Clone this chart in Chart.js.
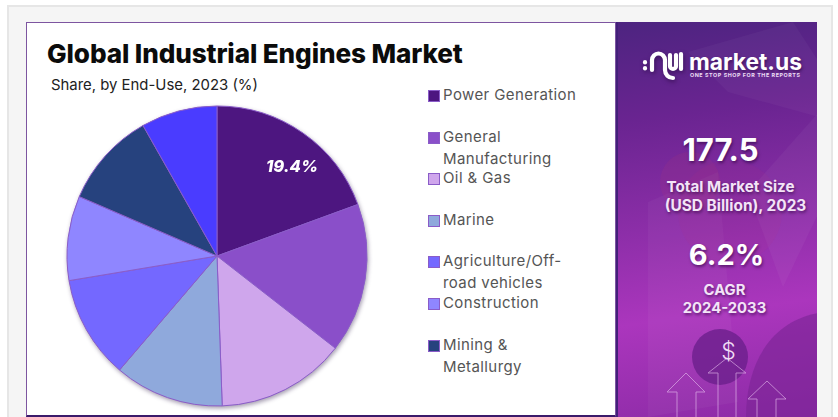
<!DOCTYPE html>
<html>
<head>
<meta charset="utf-8">
<script src="https://cdn.jsdelivr.net/npm/chart.js@4"></script>
<style>
    html, body { margin: 0; padding: 0; background: #fff; }
    body { width: 838px; height: 417px; position: relative; overflow: hidden; font-family: "Inter", sans-serif; }
    .frame { position: absolute; left: 7px; top: 5px; width: 826px; height: 420px; background: #f5f5f5; border: 2px solid #e6e6e6; border-bottom: 0; box-sizing: border-box; }
    .card { position: absolute; left: 26px; top: 22px; width: 590px; height: 395px; background: #fff; border: 1px solid #7d55a0; border-bottom: 2px solid #3b1a6b; box-sizing: border-box; }
    .title { position: absolute; left: 47px; top: 38px; font-size: 26.1px; line-height: 32px; font-weight: 800; color: #0b0b0b; letter-spacing: -0.1px; white-space: nowrap; }
    .subtitle { position: absolute; left: 51px; top: 75px; font-size: 14.9px; line-height: 20px; color: #222; white-space: nowrap; }
    #chartWrap { position: absolute; left: 57px; top: 96px; width: 320px; height: 320px; filter: drop-shadow(1px 2px 2px rgba(30, 10, 60, .4)); }
    #legend { position: absolute; left: 428px; top: 84px; width: 180px; }
    .row { position: relative; height: 41.6px; font-size: 15px; line-height: 22px; color: #555; letter-spacing: .4px; padding-left: 15px; box-sizing: border-box; white-space: nowrap; }
    .row i { position: absolute; left: 0; top: 6px; width: 10px; height: 10px; border: 1px solid #8a5cc8; }
    .side { position: absolute; left: 616px; top: 22px; width: 201px; height: 395px; overflow: hidden; background: linear-gradient(172deg, #4d2480 0%, #6a2491 24%, #8c2ea8 50%, #ab36bd 72%, #8c2ba6 100%); border-left: 2px solid #43207a; box-sizing: border-box; color: #fff; text-align: center; }
    .side svg { position: absolute; left: 0; top: 0; }
    .side div { position: absolute; left: 0; width: 199px; text-shadow: 1px 2px 3px rgba(40, 0, 60, .55); white-space: nowrap; }
    .big { font-size: 31px; line-height: 36px; font-weight: 700; }
    .cap { font-size: 15.2px; line-height: 19px; font-weight: 700; color: #f3e4f7; }
    .side .brand { left: 71px; width: auto; top: 26px; font-size: 22.8px; line-height: 28px; font-weight: 700; }
    .side .tag { left: 72px; width: auto; top: 49px; font-size: 5.4px; line-height: 8px; font-weight: 700; letter-spacing: .55px; color: #eadcf2; text-shadow: none; }
</style>
</head>
<body>
<div class="frame"></div>
<div class="card"></div>
<div class="title">Global Industrial Engines Market</div>
<div class="subtitle">Share, by End-Use, 2023 (%)</div>
<div id="chartWrap"><canvas id="shareChart" width="320" height="320"></canvas></div>
<div id="legend"></div>

<div class="side">
    <svg width="201" height="395" fill="none">
        <!-- background shapes -->
        <polygon points="70,30 175,0 201,40 201,95 110,70" fill="#fff" opacity=".035"/>
        <polygon points="130,170 201,90 201,190 165,265" fill="#fff" opacity=".04"/>
        <polygon points="30,180 100,150 120,380 30,395" fill="#fff" opacity=".035"/>
        <circle cx="112" cy="190" r="52" fill="#c0396f" opacity=".08"/>
        <circle cx="72" cy="160" r="30" fill="#c0396f" opacity=".12"/>
        <circle cx="102" cy="335" r="28" fill="#6b1f8c" opacity=".8"/>
        <path d="M128 395 C128 345 150 300 201 291 V395 Z" fill="#7d2596" opacity=".65"/>
        <!-- logo mark -->
        <g stroke="#fff" stroke-width="4.2" stroke-linecap="round" filter="drop-shadow(1px 2px 2px rgba(30,0,50,.5))">
            <path d="M34 48 V38 A6.5 6.5 0 0 1 47 38 V48 A8 8 0 0 0 55 56"/>
            <path d="M52 33 V44 A3 3 0 0 0 58 44 V33"/>
            <path d="M63 32 V47"/>
            <path d="M27 40 V40.5"/>
            <path d="M27 46 V46.5"/>
        </g>
        <!-- rising arrows -->
        <g stroke="#e7bfef" stroke-width="1" opacity=".6">
            <path d="M59 395 V370 H49 L68 351 L87 370 H78 V395"/>
            <path d="M100 395 V351 H90 L109 336 L128 351 H118 V395"/>
            <path d="M139 395 V377 H130 L149 359 L168 377 H158 V395"/>
        </g>
    </svg>
    <div class="brand">market.us</div>
    <div class="tag">ONE STOP SHOP FOR THE REPORTS</div>
    <div class="big" style="top:110px; left:3px;">177.5</div>
    <div class="cap" style="top:155px; left:13px;">Total Market Size</div>
    <div class="cap" style="top:174px; left:18px; font-size:15.4px;">(USD Billion), 2023</div>
    <div class="big" style="top:215px; left:9px; font-size:29px;">6.2%</div>
    <div class="cap" style="top:259px; left:7px; font-size:14.8px;">CAGR</div>
    <div class="cap" style="top:277px; left:7px; font-size:14.8px;">2024-2033</div>
    <div style="top:315px; left:11px; font-size:23px; line-height:28px; color:#f0dcf5; text-shadow:none; font-weight:300;">$</div>
</div>

<script>
// End-use shares, clockwise from the top
const categories = ['Power Generation', 'General Manufacturing', 'Oil & Gas', 'Marine',
    'Agriculture/Off-road vehicles', 'Construction', 'Mining & Metallurgy', 'Others'];
const shares = [19.4, 16.1, 13.9, 11.8, 11.1, 9.1, 10.3, 8.2];
const sliceColors = ['#4d1680', '#8a4fc9', '#cfa6ec', '#8fa9dc', '#7468ff', '#8f86ff', '#26427e', '#4a3cff'];

// Legend lines, the last slice has no legend entry
const legendLines = [
    ['Power Generation'],
    ['General', 'Manufacturing'],
    ['Oil & Gas'],
    ['Marine'],
    ['Agriculture/Off-', 'road vehicles'],
    ['Construction'],
    ['Mining &', 'Metallurgy']
];

// Value label on the largest slice only
const sliceLabel = {
    id: 'sliceLabel',
    afterDatasetsDraw(chart) {
        const arc = chart.getDatasetMeta(0).data[0];
        const { ctx } = chart;
        ctx.save();
        ctx.font = 'italic 800 16.5px Inter, sans-serif';
        ctx.fillStyle = '#fff';
        ctx.textAlign = 'center';
        ctx.textBaseline = 'middle';
        ctx.fillText(shares[0] + '%', arc.x + 0.5 * arc.outerRadius, arc.y - 0.595 * arc.outerRadius);
        ctx.restore();
    }
};

new Chart(document.getElementById('shareChart'), {
    type: 'pie',
    data: {
        labels: categories,
        datasets: [{
            data: shares,
            backgroundColor: sliceColors,
            borderColor: '#8a5cc8',
            borderWidth: 1
        }]
    },
    options: {
        responsive: false,
        animation: false,
        radius: 150,
        plugins: {
            legend: { display: false },
            tooltip: { enabled: false }
        }
    },
    plugins: [sliceLabel]
});

// HTML legend, fixed row step so two-line entries run into the next row
const legendEl = document.getElementById('legend');
legendLines.forEach((lines, i) => {
    const row = document.createElement('div');
    row.className = 'row';
    row.innerHTML = `<i style="background:${sliceColors[i]}"></i>`;
    row.append(lines[0]);
    if (lines[1]) {
        row.append(document.createElement('br'), lines[1]);
    }
    legendEl.appendChild(row);
});
</script>
</body>
</html>
